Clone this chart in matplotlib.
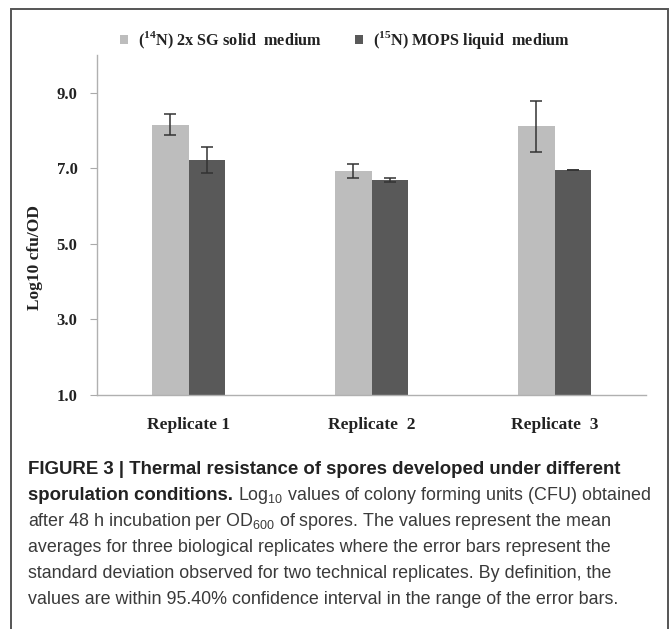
import matplotlib
matplotlib.use("Agg")
import matplotlib.pyplot as plt
import numpy as np
from matplotlib.patches import Rectangle

categories = ["Replicate 1", "Replicate  2", "Replicate  3"]
series_names = [r"($^{\mathregular{14}}$N) 2x SG solid  medium",
                r"($^{\mathregular{15}}$N) MOPS liquid  medium"]
sg_values = [8.16, 6.93, 8.11]
sg_err = [0.27, 0.18, 0.67]
mops_values = [7.22, 6.69, 6.96]
mops_err = [0.35, 0.05, 0.0]
yticks = [1.0, 3.0, 5.0, 7.0, 9.0]

plt.rcParams['mathtext.fontset'] = 'custom'
plt.rcParams['mathtext.rm'] = 'Liberation Sans'
plt.rcParams['mathtext.bf'] = 'Liberation Sans:bold'

W, H = 670, 629
fig = plt.figure(figsize=(W / 100, H / 100), dpi=100)

# frame
fig.patches.append(Rectangle((11 / W, -0.05), (668 - 11) / W, 1.05 - 9 / H,
                             transform=fig.transFigure, fill=False,
                             edgecolor='#555555', linewidth=1.4))

ax = fig.add_axes([97 / W, 1 - 395 / H, (646 - 97) / W, (395 - 55) / H])
x = np.arange(len(categories))
bw = 0.2
light, dark = '#bdbdbd', '#595959'
ax.bar(x - bw / 2, sg_values, bw, color=light, label=series_names[0], zorder=2)
ax.bar(x + bw / 2, mops_values, bw, color=dark, label=series_names[1], zorder=2)
ax.errorbar(x - bw / 2, sg_values, yerr=sg_err, fmt='none', ecolor='#333333',
            elinewidth=1.1, capsize=4, capthick=1.1, zorder=3)
ax.errorbar(x + bw / 2, mops_values, yerr=mops_err, fmt='none', ecolor='#333333',
            elinewidth=1.1, capsize=4, capthick=1.1, zorder=3)
ax.set_xlim(-0.5, 2.5)
ax.set_ylim(1.0, 10.0)
ax.set_yticks(yticks)
ax.set_yticklabels([f"{v:.1f}" for v in yticks], fontfamily='Liberation Serif',
                   fontweight='bold', fontsize=12, color='#222222')
ax.set_xticks(x)
ax.set_xticklabels(categories, fontfamily='Liberation Serif', fontweight='bold',
                   fontsize=12.5, color='#222222')
ax.tick_params(axis='x', length=0, pad=16)
ax.tick_params(axis='y', length=5, width=0.8, color='#aaaaaa', pad=9)
for s in ['top', 'right']:
    ax.spines[s].set_visible(False)
for s in ['left', 'bottom']:
    ax.spines[s].set_color('#b0b0b0')
    ax.spines[s].set_linewidth(1.0)

ax.set_ylabel("Log10 cfu/OD", fontfamily='Liberation Serif', fontweight='bold',
              fontsize=12.5, color='#222222')
ax.yaxis.set_label_coords(-0.098, 0.405)

leg = fig.legend(loc='center', bbox_to_anchor=(345 / W, 1 - 40 / H), ncol=2,
                 frameon=False, handlelength=0.5, handleheight=0.5,
                 handletextpad=0.65, columnspacing=2.0,
                 prop={'family': 'Liberation Serif', 'weight': 'bold', 'size': 11.7})
for t in leg.get_texts():
    t.set_color('#222222')

# caption
cx = 28 / W
fs = 12.9
fsb = 13.4
cap_color = '#3a3a3a'
y0 = 470
dy = 26
fig.text(cx, 1 - y0 / H, "FIGURE 3 | Thermal resistance of spores developed under different",
         fontfamily='Liberation Sans', fontweight='bold', fontsize=fsb, color='#222222',
         va='center', ha='left')
tb = fig.text(cx, 1 - (y0 + dy) / H, "sporulation conditions.",
              fontfamily='Liberation Sans', fontweight='bold', fontsize=fsb, color='#222222',
              va='center', ha='left')
fig.canvas.draw()
bb = tb.get_window_extent(renderer=fig.canvas.get_renderer())
x2 = (bb.x1 + 5) / W
fig.text(x2, 1 - (y0 + dy) / H,
         r"Log$_\mathregular{10}$ values of colony forming units (CFU) obtained",
         fontfamily='Liberation Sans', fontsize=fs, color=cap_color, va='center', ha='left')
rest = [r"after 48 h incubation per OD$_\mathregular{600}$ of spores. The values represent the mean",
        "averages for three biological replicates where the error bars represent the",
        "standard deviation observed for two technical replicates. By definition, the",
        "values are within 95.40% confidence interval in the range of the error bars."]
for i, line in enumerate(rest):
    fig.text(cx, 1 - (y0 + dy * (i + 2)) / H, line,
             fontfamily='Liberation Sans', fontsize=fs, color=cap_color,
             va='center', ha='left')

fig.savefig("out.png", dpi=100)
